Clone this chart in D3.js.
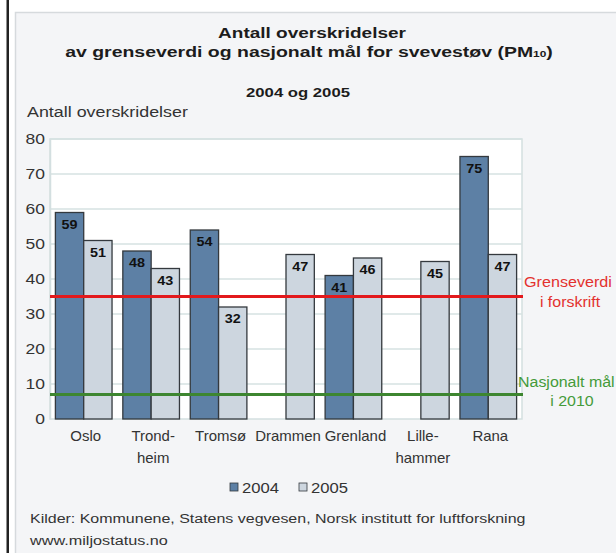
<!DOCTYPE html>
<html><head><meta charset="utf-8">
<script src="https://cdn.jsdelivr.net/npm/d3@7"></script>
<style>body{margin:0;background:#fff}svg{display:block}text{font-family:"Liberation Sans",Arial,sans-serif}</style>
</head><body><svg id="c" width="616" height="553"></svg>
<script>
const categories = [["Oslo"],["Trond-","heim"],["Tromsø"],["Drammen"],["Grenland"],["Lille-","hammer"],["Rana"]];
const years = ["2004","2005"];
const values2004 = [59,48,54,null,41,null,75];
const values2005 = [51,43,32,47,46,45,47];
const yTicks = [0,10,20,30,40,50,60,70,80];
const limitValue = 35;
const targetValue = 7;

const svg = d3.select("#c");
const FONT = "'Liberation Sans',Arial,sans-serif";

// helper: text placed in a group, optionally stretched horizontally to a target width
function label(parent, x, y, str, o) {
  const g = parent.append("g").attr("transform", `translate(${x},${y})`);
  const t = g.append("text").attr("x",0).attr("y",0)
    .attr("text-anchor", o.anchor || "start")
    .attr("font-size", o.size).attr("font-weight", o.weight || "normal")
    .attr("fill", o.fill || "#333").style("font-family", FONT);
  if (typeof str === "function") str(t); else t.text(str);
  let sx = o.sx || 1;
  if (o.width) { const L = t.node().getComputedTextLength(); if (L > 0) sx = o.width / L; }
  g.attr("transform", `translate(${x},${y}) scale(${sx},1)`);
  return t;
}

// outer frame
svg.append("rect").attr("x",6.5).attr("y",-2).attr("width",2.5).attr("height",560).attr("fill","#222");
svg.append("rect").attr("x",15.5).attr("y",12.5).attr("width",620).attr("height",560).attr("fill","#f4f5f7").attr("stroke","#d6dadd").attr("stroke-width",1.5);

const L=50,R=522,T=139,B=419;
const y = d3.scaleLinear().domain([0,80]).range([B,T]);
const names = categories.map(c=>c.join(""));
const x0 = d3.scaleBand().domain(names).range([L,R]).padding(0);
const x1 = d3.scaleBand().domain(years).range([x0.bandwidth()*0.08, x0.bandwidth()*0.92]).padding(0);
const colors = {"2004":"#5d80a5","2005":"#cdd6df"};

svg.append("rect").attr("x",L).attr("y",T).attr("width",R-L).attr("height",B-T).attr("fill","#fff").attr("stroke","#d3dfe0").attr("stroke-width",1.5);
svg.append("g").selectAll("line").data(yTicks.slice(1)).join("line")
  .attr("x1",L).attr("x2",R).attr("y1",d=>y(d)).attr("y2",d=>y(d)).attr("stroke","#d6e2e2").attr("stroke-width",1.5);

const yAxis = svg.append("g").attr("transform",`translate(${L},0)`).call(d3.axisLeft(y).tickValues(yTicks).tickSize(0).tickPadding(4));
yAxis.select(".domain").attr("stroke","#d3dfe0").attr("stroke-width",1.5);
yAxis.selectAll("text").attr("font-size",14).attr("fill","#333").style("font-family",FONT).attr("transform","scale(1.25,1)");

const data = [];
names.forEach((n,i)=>{ [["2004",values2004[i]],["2005",values2005[i]]].forEach(([yr,v])=>{ if(v!=null) data.push({n,yr,v}); }); });
const g = svg.append("g");
g.selectAll("rect").data(data).join("rect")
  .attr("x",d=>x0(d.n)+x1(d.yr)).attr("width",x1.bandwidth())
  .attr("y",d=>y(d.v)).attr("height",d=>B-y(d.v))
  .attr("fill",d=>colors[d.yr]).attr("stroke","#34393e").attr("stroke-width",1.3);
const vl = svg.append("g");
data.forEach(d=>label(vl, x0(d.n)+x1(d.yr)+x1.bandwidth()/2, y(d.v)+16, String(d.v), {size:12.5, weight:"bold", fill:"#111", anchor:"middle", sx:1.15}));

// reference lines
svg.append("line").attr("x1",L).attr("x2",R+1).attr("y1",y(limitValue)).attr("y2",y(limitValue)).attr("stroke","#e3191c").attr("stroke-width",3);
svg.append("line").attr("x1",L).attr("x2",R+1).attr("y1",y(targetValue)).attr("y2",y(targetValue)).attr("stroke","#3d8630").attr("stroke-width",3);

// x labels
const xl = svg.append("g");
categories.forEach((c,i)=>{
  const cx = x0(names[i])+x0.bandwidth()/2+2;
  c.forEach((line,j)=>label(xl, cx, 441 + j*22, line, {size:14, anchor:"middle", sx:1.07}));
});

// titles
const tg = svg.append("g");
label(tg, 312, 38, "Antall overskridelser", {size:15.5, weight:"bold", fill:"#1c1c1c", anchor:"middle", width:188});
label(tg, 309, 57, t=>{
  t.append("tspan").text("av grenseverdi og nasjonalt mål for svevestøv (PM");
  t.append("tspan").attr("font-size",9.5).text("10");
  t.append("tspan").text(")");
}, {size:15.5, weight:"bold", fill:"#1c1c1c", anchor:"middle", width:488});
label(tg, 298, 97, "2004 og 2005", {size:13, weight:"bold", fill:"#1c1c1c", anchor:"middle", width:104});
label(tg, 27, 117, "Antall overskridelser", {size:14.5, fill:"#333", width:161});

// right annotations
const ann = svg.append("g");
label(ann, 568, 287, "Grenseverdi", {size:14.5, fill:"#e3312e", anchor:"middle", width:88});
label(ann, 570, 307, "i forskrift", {size:14.5, fill:"#e3312e", anchor:"middle", sx:1.1});
label(ann, 518, 387, "Nasjonalt mål", {size:14.5, fill:"#449b3a", sx:1.1});
label(ann, 572, 406, "i 2010", {size:14.5, fill:"#449b3a", anchor:"middle", sx:1.1});

// legend
const lg = svg.append("g");
years.forEach((yr,i)=>{
  const lx = 230 + i*69;
  lg.append("rect").attr("x",lx).attr("y",483).attr("width",8).attr("height",8).attr("fill",colors[yr]).attr("stroke","#34393e").attr("stroke-width",0.8);
  label(lg, lx+12, 493, yr, {size:14.5, fill:"#333", width:37});
});

// source
const src = svg.append("g");
label(src, 30, 523, "Kilder: Kommunene, Statens vegvesen, Norsk institutt for luftforskning", {size:13.5, fill:"#333", width:496});
label(src, 30, 545, "www.miljostatus.no", {size:13.5, fill:"#333", width:138});
</script></body></html>
